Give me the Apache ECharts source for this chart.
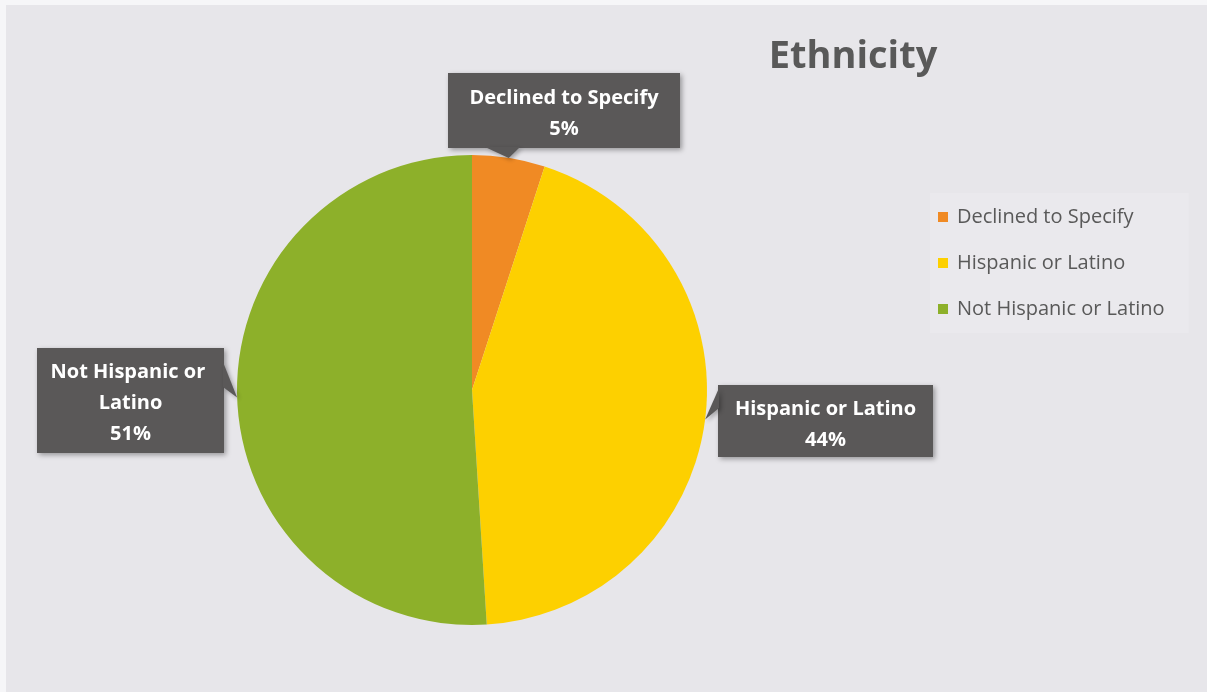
<!DOCTYPE html>
<html>
<head>
<meta charset="utf-8">
<script src="https://cdn.jsdelivr.net/npm/echarts@6/dist/echarts.min.js"></script>
<style>
  html, body { margin: 0; padding: 0; background: #f6f6f8; }
  #chart { position: absolute; left: 6px; top: 5px; width: 1201px; height: 687px; }
</style>
</head>
<body>
<div id="chart"></div>
<script>
// Ethnicity breakdown (percent of respondents)
const categories = ['Declined to Specify', 'Hispanic or Latino', 'Not Hispanic or Latino'];
const shares = [5, 44, 51];
const sliceColors = ['#f08a24', '#fdd000', '#8db02a'];

const FONT = '"Open Sans", Lato, sans-serif';
const calloutBg = '#5a5858';

const PIE_CENTER = [466, 385];
const PIE_RADIUS = 235;

// callout boxes: left, top, width, height, top padding, line count, line height (chart pixels)
const calloutBoxes = [
  { x: 442, y: 68, w: 232, h: 75, padTop: 10, lines: 2, lh: 31 },
  { x: 712, y: 380, w: 215, h: 72, padTop: 9, lines: 2, lh: 31 },
  { x: 31, y: 343, w: 187, h: 105, padTop: 9, lines: 3, lh: 31 }
];
// the two base corners of each callout's pointer, on the box edge
const pointerBases = [
  [[479, 142], [514, 142]],
  [[713, 383], [713, 403]],
  [[217, 357], [217, 382]]
];

const chart = echarts.init(document.getElementById('chart'));

const data = categories.map((name, i) => {
  const b = calloutBoxes[i];
  const padBottom = b.h - b.padTop - b.lines * b.lh;
  return {
    name,
    value: shares[i],
    itemStyle: { color: sliceColors[i] },
    label: { width: b.w - 12, lineHeight: b.lh, padding: [b.padTop, 6, padBottom, 6] }
  };
});

// pointer tips sit on the rim at each slice's mid angle
const total = shares.reduce((a, b) => a + b, 0);
let acc = 0;
const pointers = shares.map((v, i) => {
  const mid = (acc + v / 2) / total * Math.PI * 2;
  acc += v;
  const tip = [PIE_CENTER[0] + PIE_RADIUS * Math.sin(mid), PIE_CENTER[1] - PIE_RADIUS * Math.cos(mid)];
  return {
    type: 'polygon',
    z: 100,
    silent: true,
    shape: { points: [pointerBases[i][0], tip, pointerBases[i][1]] },
    style: {
      fill: calloutBg,
      shadowColor: 'rgba(0,0,0,0.3)',
      shadowBlur: 4,
      shadowOffsetX: 2,
      shadowOffsetY: 2
    }
  };
});

chart.setOption({
  backgroundColor: '#e7e6ea',
  title: {
    text: 'Ethnicity',
    left: 842,
    top: 28,
    textAlign: 'center',
    textStyle: { fontFamily: FONT, fontSize: 38, fontWeight: 'bold', color: '#595959' }
  },
  legend: {
    orient: 'vertical',
    left: 924,
    top: 188,
    icon: 'rect',
    itemWidth: 10,
    itemHeight: 10,
    itemGap: 26,
    padding: [14, 24, 14, 8],
    backgroundColor: '#eae9ed',
    textStyle: { fontFamily: FONT, fontSize: 20, color: '#595959', padding: [0, 0, 0, 4] },
    data: categories
  },
  graphic: pointers,
  series: [{
    type: 'pie',
    center: PIE_CENTER,
    radius: PIE_RADIUS,
    startAngle: 90,
    clockwise: true,
    animation: false,
    silent: true,
    data,
    label: {
      show: true,
      position: 'outside',
      formatter: '{b}\n{c}%',
      overflow: 'break',
      fontFamily: FONT,
      fontSize: 20,
      fontWeight: 'bold',
      color: '#ffffff',
      align: 'center',
      backgroundColor: calloutBg,
      shadowColor: 'rgba(0,0,0,0.35)',
      shadowBlur: 5,
      shadowOffsetX: 2,
      shadowOffsetY: 2
    },
    labelLine: { show: false },
    labelLayout: function (params) {
      const b = calloutBoxes[params.dataIndex];
      return { x: b.x + b.w / 2, y: b.y, align: 'center', verticalAlign: 'top' };
    }
  }]
});
</script>
</body>
</html>
